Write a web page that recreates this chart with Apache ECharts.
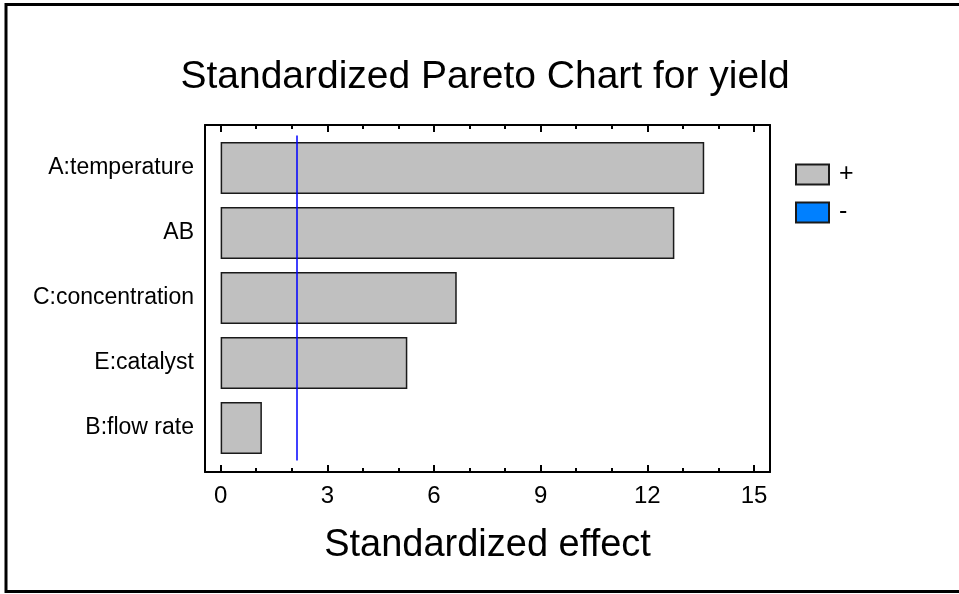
<!DOCTYPE html>
<html>
<head>
<meta charset="utf-8">
<style>
  html, body { margin: 0; padding: 0; background: #fff; }
  #chart { width: 959px; height: 594px; }
</style>
<script src="https://cdn.jsdelivr.net/npm/echarts@6/dist/echarts.min.js"></script>
</head>
<body>
<div id="chart"></div>
<script>
// 数据
var factors = ['A:temperature', 'AB', 'C:concentration', 'E:catalyst', 'B:flow rate'];
var positiveEffects = [13.6, 12.76, 6.64, 5.25, 1.16];
var negativeEffects = [];
var criticalValue = 2.15;
var majorTicks = [0, 3, 6, 9, 12, 15];
var minorTicks = [0, 1, 2, 3, 4, 5, 6, 7, 8, 9, 10, 11, 12, 13, 14, 15];
var xMin = -0.44, xMax = 15.45;

(function() {
  var myChart = echarts.init(document.getElementById('chart'));
  var font = 'Liberation Sans, Arial, sans-serif';
  var frame = { left: 205, right: 189, top: 125, bottom: 122 };
  var blackLine = { color: '#000', width: 2 };

  var option = {
    backgroundColor: '#fff',
    animation: false,
    textStyle: { fontFamily: font },
    title: {
      text: 'Standardized Pareto Chart for yield',
      left: 480, top: 53, textAlign: 'center',
      textStyle: { fontSize: 39, fontWeight: 'normal', color: '#000', fontFamily: font }
    },
    legend: {
      orient: 'vertical',
      left: 790, top: 157,
      itemWidth: 33, itemHeight: 20, itemGap: 13,
      icon: 'rect',
      data: ['+', '-'],
      textStyle: { fontSize: 25, color: '#000', padding: [0, 0, 0, 5] }
    },
    // 外框
    graphic: [{
      type: 'rect',
      shape: { x: 6, y: 4.5, width: 1000, height: 587 },
      style: { fill: null, stroke: '#000', lineWidth: 3 },
      silent: true
    }],
    grid: [
      // 边框 + 主刻度
      { left: frame.left, right: frame.right, top: frame.top, bottom: frame.bottom },
      // 次刻度
      { left: frame.left, right: frame.right, top: frame.top, bottom: frame.bottom },
      // 柱子
      { left: frame.left, right: frame.right, top: 135.5, bottom: 133.5 }
    ],
    xAxis: [
      {
        gridIndex: 0, type: 'value', position: 'bottom', min: xMin, max: xMax,
        axisLine: { show: true, onZero: false, lineStyle: blackLine },
        axisTick: { show: true, inside: true, length: 7, customValues: majorTicks, lineStyle: blackLine },
        axisLabel: { show: true, customValues: majorTicks, fontSize: 24, color: '#000', margin: 12 },
        splitLine: { show: false },
        name: 'Standardized effect', nameLocation: 'middle', nameGap: 55,
        nameTextStyle: { fontSize: 38, color: '#000' }
      },
      {
        gridIndex: 0, type: 'value', position: 'top', min: xMin, max: xMax,
        axisLine: { show: true, onZero: false, lineStyle: blackLine },
        axisTick: { show: true, inside: true, length: 7, customValues: majorTicks, lineStyle: blackLine },
        axisLabel: { show: false, customValues: majorTicks },
        splitLine: { show: false }
      },
      {
        gridIndex: 1, type: 'value', position: 'bottom', min: xMin, max: xMax,
        axisLine: { show: false, onZero: false },
        axisTick: { show: true, inside: true, length: 4, customValues: minorTicks, lineStyle: blackLine },
        axisLabel: { show: false, customValues: minorTicks },
        splitLine: { show: false }
      },
      {
        gridIndex: 1, type: 'value', position: 'top', min: xMin, max: xMax,
        axisLine: { show: false, onZero: false },
        axisTick: { show: true, inside: true, length: 4, customValues: minorTicks, lineStyle: blackLine },
        axisLabel: { show: false, customValues: minorTicks },
        splitLine: { show: false }
      },
      {
        gridIndex: 2, type: 'value', min: xMin, max: xMax, show: false
      }
    ],
    yAxis: [
      {
        gridIndex: 0, type: 'value', position: 'left',
        axisLine: { show: true, onZero: false, lineStyle: blackLine },
        axisTick: { show: false }, axisLabel: { show: false }, splitLine: { show: false }
      },
      {
        gridIndex: 0, type: 'value', position: 'right',
        axisLine: { show: true, onZero: false, lineStyle: blackLine },
        axisTick: { show: false }, axisLabel: { show: false }, splitLine: { show: false }
      },
      { gridIndex: 1, type: 'value', show: false },
      {
        gridIndex: 2, type: 'category', data: factors, inverse: true,
        axisLine: { show: false }, axisTick: { show: false },
        axisLabel: { fontSize: 23, color: '#000', margin: 11 },
        splitLine: { show: false }
      }
    ],
    series: [
      {
        name: '+', type: 'bar', xAxisIndex: 4, yAxisIndex: 3, stack: 'effect',
        barWidth: 52,
        data: positiveEffects,
        itemStyle: { color: '#c0c0c0', borderColor: '#1a1a1a', borderWidth: 1.5 },
        markLine: {
          silent: true, symbol: 'none',
          label: { show: false },
          lineStyle: { color: '#0000ff', width: 1.5, type: 'solid', opacity: 1 },
          emphasis: { disabled: true },
          data: [{ xAxis: criticalValue, lineStyle: { color: '#0000ff' } }]
        }
      },
      {
        name: '-', type: 'bar', xAxisIndex: 4, yAxisIndex: 3, stack: 'effect',
        barWidth: 52,
        data: negativeEffects,
        itemStyle: { color: '#0080ff', borderColor: '#1a1a1a', borderWidth: 1.5 }
      }
    ]
  };
  myChart.setOption(option);
})();
</script>
</body>
</html>
